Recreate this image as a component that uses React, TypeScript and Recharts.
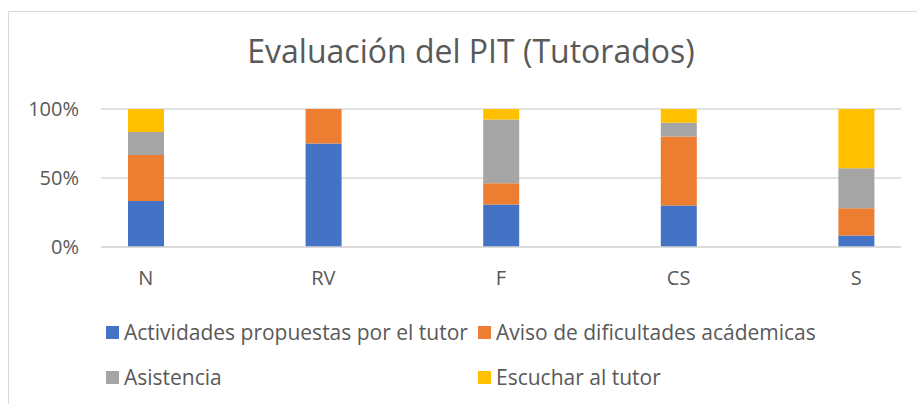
import React from "react";
import { BarChart, Bar, XAxis, YAxis, CartesianGrid } from "recharts";

// categories (x axis)
const categories = ["N", "RV", "F", "CS", "S"];

// series values, in % of each column
const actividades = [33.3, 75, 30.8, 30, 8.3];
const aviso = [33.3, 25, 15.4, 50, 19.7];
const asistencia = [16.7, 0, 46.2, 10, 29];
const escuchar = [16.7, 0, 7.6, 10, 43];

const yTicks = [0, 0.5, 1];

const series = [
  { key: "actividades", name: "Actividades propuestas por el tutor", color: "#4472C4" },
  { key: "aviso", name: "Aviso de dificultades acádemicas", color: "#ED7D31" },
  { key: "asistencia", name: "Asistencia", color: "#A5A5A5" },
  { key: "escuchar", name: "Escuchar al tutor", color: "#FFC000" },
];

const data = categories.map((name, i) => ({
  name,
  actividades: actividades[i],
  aviso: aviso[i],
  asistencia: asistencia[i],
  escuchar: escuchar[i],
}));

const FONT = "'Open Sans', 'Noto Sans', sans-serif";
const TEXT = "#595959";

// legend laid out in two columns like the excel one
const legendPos = [
  { left: 106, top: 332 },
  { left: 478, top: 332 },
  { left: 106, top: 377 },
  { left: 478, top: 377 },
];

const App: React.FC = () => {
  return (
    <div
      style={{
        position: "fixed",
        left: 0,
        top: 0,
        width: 917,
        height: 404,
        background: "#fff",
        overflow: "hidden",
        fontFamily: FONT,
      }}
    >
      <div
        style={{
          position: "absolute",
          left: 8,
          top: 11,
          width: 940,
          height: 420,
          border: "1px solid #d9d9d9",
        }}
      />
      <div
        style={{
          position: "absolute",
          left: 0,
          top: 35,
          width: 942,
          textAlign: "center",
          fontSize: 32,
          lineHeight: "32px",
          color: TEXT,
        }}
      >
        Evaluación del PIT (Tutorados)
      </div>

      <div style={{ position: "absolute", left: 0, top: 0 }}>
        <BarChart
          width={917}
          height={404}
          data={data}
          stackOffset="expand"
          margin={{ top: 109, right: 16, bottom: 117, left: 0 }}
        >
          <CartesianGrid vertical={false} stroke="#d9d9d9" strokeWidth={1.5} />
          <XAxis
            dataKey="name"
            height={40}
            axisLine={{ stroke: "#d9d9d9", strokeWidth: 1.5 }}
            tickLine={false}
            tickSize={0}
            tickMargin={24}
            padding={{ left: -44, right: -44 }}
            tick={{ fill: TEXT, fontSize: 20, fontFamily: FONT }}
          />
          <YAxis
            width={101}
            ticks={yTicks}
            domain={[0, 1]}
            axisLine={false}
            tickLine={false}
            tickSize={0}
            tickMargin={22}
            tickFormatter={(v: number) => `${Math.round(v * 100)}%`}
            tick={{ fill: TEXT, fontSize: 20, fontFamily: FONT }}
          />
          {series.map((s) => (
            <Bar
              key={s.key}
              dataKey={s.key}
              name={s.name}
              stackId="a"
              fill={s.color}
              barSize={36}
              isAnimationActive={false}
            />
          ))}
        </BarChart>
      </div>

      {series.map((s, i) => (
        <div
          key={s.key}
          style={{
            position: "absolute",
            left: legendPos[i].left,
            top: legendPos[i].top - 13,
            height: 26,
            display: "flex",
            alignItems: "center",
            whiteSpace: "nowrap",
            fontSize: 21,
            color: TEXT,
          }}
        >
          <span
            style={{
              display: "inline-block",
              width: 13,
              height: 13,
              background: s.color,
              marginRight: 5,
            }}
          />
          {s.name}
        </div>
      ))}
    </div>
  );
};

export default App;
